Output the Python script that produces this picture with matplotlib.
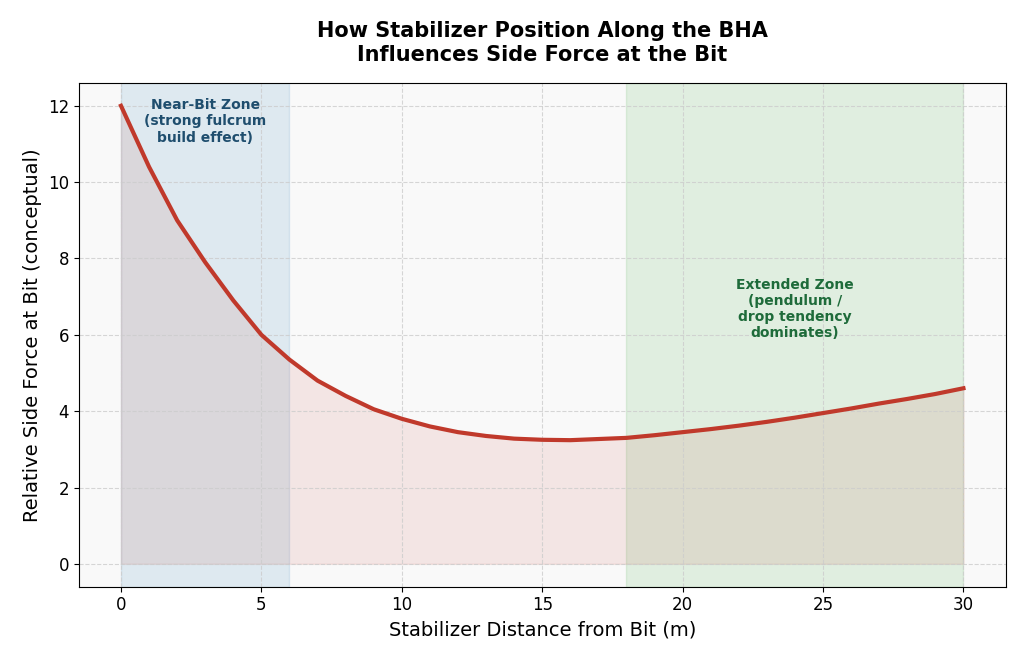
import matplotlib
matplotlib.use("Agg")
import matplotlib.pyplot as plt
import numpy as np

distance = [0,1,2,3,4,5,6,7,8,9,10,11,12,13,14,15,16,17,18,19,20,21,22,23,24,25,26,27,28,29,30]
force = [12.0,10.4,9.0,7.9,6.9,6.0,5.35,4.8,4.4,4.05,3.8,3.6,3.45,3.35,3.28,3.25,3.24,3.27,3.3,3.37,3.45,3.53,3.62,3.72,3.83,3.95,4.07,4.2,4.32,4.45,4.6]
near_zone = (0, 6)
ext_zone = (18, 30)

fig, ax = plt.subplots(figsize=(10.24, 6.63), dpi=100)
ax.set_facecolor("#f9f9f9")
ax.axvspan(*near_zone, color="#1f77b4", alpha=0.12, zorder=0)
ax.axvspan(*ext_zone, color="#2ca02c", alpha=0.12, zorder=0)
ax.fill_between(distance, force, 0, color="#c0392b", alpha=0.1, zorder=1)
ax.plot(distance, force, color="#c0392b", lw=3, zorder=3)
ax.grid(True, ls="--", color="#cccccc", alpha=0.8)
ax.set_xlim(-1.5, 31.5)
ax.set_ylim(-0.6, 12.6)
ax.set_yticks([0,2,4,6,8,10,12])
ax.text(3, 12.2, "Near-Bit Zone\n(strong fulcrum\nbuild effect)", ha="center", va="top",
        fontsize=10, fontweight="bold", color="#1f4e6e")
ax.text(24, 7.5, "Extended Zone\n(pendulum /\ndrop tendency\ndominates)", ha="center", va="top",
        fontsize=10, fontweight="bold", color="#1e6b3a")
ax.set_xlabel("Stabilizer Distance from Bit (m)", fontsize=14)
ax.set_ylabel("Relative Side Force at Bit (conceptual)", fontsize=14)
ax.set_title("How Stabilizer Position Along the BHA\nInfluences Side Force at the Bit",
             fontsize=15, fontweight="bold", pad=16)
ax.tick_params(labelsize=12)
fig.subplots_adjust(left=0.077, right=0.982, top=0.875, bottom=0.115)
fig.savefig("out.png", dpi=100)
